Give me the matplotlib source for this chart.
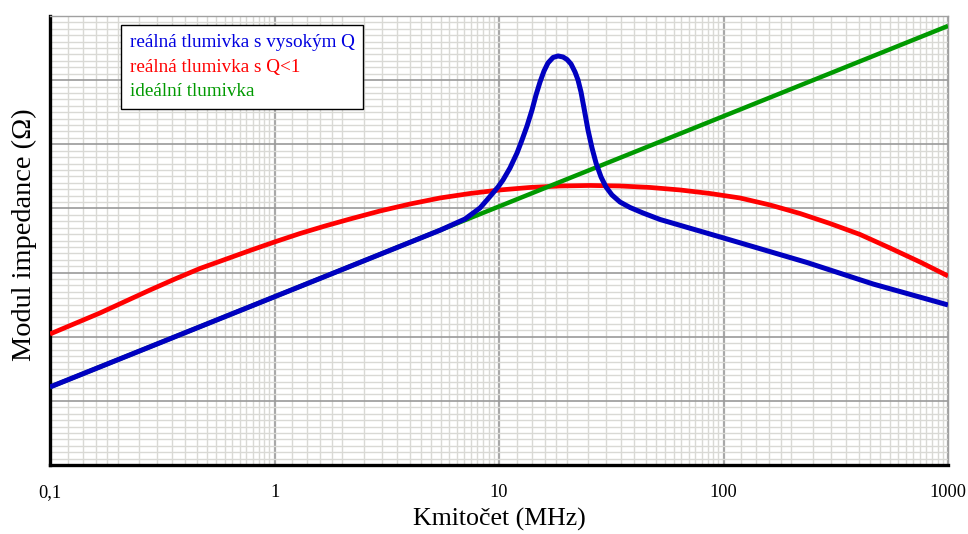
import numpy as np
import matplotlib
matplotlib.use("Agg")
import matplotlib.pyplot as plt
from matplotlib.ticker import LogLocator, FixedLocator, FixedFormatter, MultipleLocator, NullFormatter

plt.rcParams['font.family'] = ['Liberation Serif', 'DejaVu Serif']

# ---- data (frequency in MHz, impedance level in arbitrary log units) ----
f_ideal = [0.1, 1000]
z_ideal = [1.216, 6.845]

f_lowq = [0.1, 0.1292, 0.167, 0.2158, 0.2789, 0.3604, 0.4658, 0.6019, 0.7778, 1.0,
          1.299, 1.679, 2.169, 2.951, 4.015, 5.461, 7.427, 10.10, 13.75, 18.70,
          25.43, 34.59, 47.05, 64.0, 87.1, 118.4, 161.1, 219.2, 298.1, 405.6,
          551.6, 750.5, 1000]
z_lowq = [2.042, 2.206, 2.370, 2.549, 2.728, 2.900, 3.064, 3.204, 3.344, 3.477,
          3.609, 3.726, 3.835, 3.960, 4.069, 4.163, 4.233, 4.288, 4.327, 4.350,
          4.358, 4.350, 4.327, 4.288, 4.233, 4.163, 4.054, 3.921, 3.765, 3.594,
          3.383, 3.165, 2.947]

f_highq = [0.1, 1.0, 5.461, 7.057, 8.229, 8.841, 9.403, 9.897, 10.42, 11.19, 12.03,
           12.66, 13.33, 14.03, 14.62, 15.23, 15.87, 16.53, 17.40, 18.32, 19.28,
           20.09, 20.93, 21.81, 22.49, 23.19, 23.91, 24.91, 25.96, 27.05, 28.48,
           29.97, 31.86, 34.59, 38.33, 43.80, 52.13, 103.6, 235.5, 463.5, 1000]
z_highq = [1.216, 2.623, 3.660, 3.835, 4.007, 4.132, 4.241, 4.334, 4.443, 4.630, 4.864,
           5.067, 5.285, 5.535, 5.769, 5.971, 6.143, 6.268, 6.353, 6.377, 6.361,
           6.322, 6.252, 6.127, 6.002, 5.815, 5.566, 5.223, 4.942, 4.708, 4.490,
           4.334, 4.210, 4.100, 4.015, 3.929, 3.828, 3.524, 3.157, 2.822, 2.495]

labels = ["reálná tlumivka s vysokým Q", "reálná tlumivka s Q<1", "ideální tlumivka"]
xtick_vals = [0.1, 1, 10, 100, 1000]
xtick_labels = ["0,1", "1", "10", "100", "1000"]
x_title = "Kmitočet (MHz)"
y_title = "Modul impedance (Ω)"

c_blue = "#0000C0"
c_red = "#FF0000"
c_green = "#009900"

fig = plt.figure(figsize=(9.68, 5.34), dpi=100)
ax = fig.add_axes([50/968, 69/534, 898/968, 449/534])
ax.set_xscale('log')
ax.set_xlim(0.1, 1000)
ax.set_ylim(0, 7)

# grid
ax.xaxis.set_major_locator(FixedLocator(xtick_vals))
ax.xaxis.set_major_formatter(FixedFormatter(xtick_labels))
ax.xaxis.set_minor_locator(LogLocator(base=10, subs=[1.2, 1.4, 1.6, 1.8, 2, 2.5, 3, 3.5, 4, 4.5,
                                                      5, 5.5, 6, 6.5, 7, 7.5, 8, 8.5, 9, 9.5], numticks=50))
ax.xaxis.set_minor_formatter(NullFormatter())
ax.yaxis.set_major_locator(MultipleLocator(1))
ax.yaxis.set_minor_locator(MultipleLocator(0.1))
ax.yaxis.set_major_formatter(NullFormatter())
ax.grid(which='major', axis='x', color='#a8a8a8', lw=1.6)
ax.grid(which='minor', axis='x', color='#d9d9d5', lw=1.0)
ax.grid(which='major', axis='y', color='#9a9a9a', lw=1.2)
ax.grid(which='minor', axis='y', color='#d9d9d5', lw=1.0)
ax.set_axisbelow(True)
ax.tick_params(which='both', length=0)
ax.tick_params(axis='x', which='major', pad=14, labelsize=13.2)

for s in ['left', 'bottom']:
    ax.spines[s].set_linewidth(2.4)
    ax.spines[s].set_color('black')
for s in ['top', 'right']:
    ax.spines[s].set_linewidth(1.0)
    ax.spines[s].set_color('#a0a0a0')

ln_r, = ax.plot(f_lowq, z_lowq, color=c_red, lw=3.4, solid_joinstyle='round', solid_capstyle='butt', zorder=3)
ln_g, = ax.plot(f_ideal, z_ideal, color=c_green, lw=3.2, solid_capstyle='butt', zorder=4)
ln_b, = ax.plot(f_highq, z_highq, color=c_blue, lw=3.6, solid_joinstyle='round', solid_capstyle='butt', zorder=5)

leg = ax.legend([ln_b, ln_r, ln_g], labels, loc='upper left', bbox_to_anchor=(0.079, 0.98),
                handlelength=0, handletextpad=0, fontsize=13.8, frameon=True, fancybox=False,
                edgecolor='black', framealpha=1, borderpad=0.45, labelspacing=0.38,
                labelcolor=['#0000E0', c_red, c_green], borderaxespad=0)
for h in leg.legend_handles:
    h.set_visible(False)
leg.get_frame().set_linewidth(1.0)

ax.set_xlabel(x_title, fontsize=18.6, labelpad=5)
ax.set_ylabel(y_title, fontsize=20.4, labelpad=6)
ax.yaxis.label.set_y(0.512)

fig.savefig("out.png", dpi=100)
